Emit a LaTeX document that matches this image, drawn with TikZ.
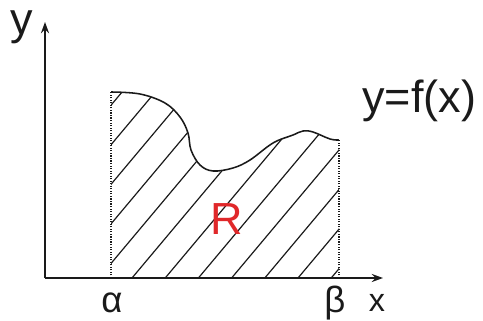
\documentclass[tikz,border=0pt]{standalone}
\usepackage{fontspec}
\setmainfont{Liberation Sans}
\usetikzlibrary{arrows.meta,calc,positioning}
\definecolor{AreaInk}{HTML}{1A1A1A}
\definecolor{AreaRed}{HTML}{E0282A}
\tikzset{
  every node/.style={text=AreaInk, inner sep=0pt},
  axis/.style={-{Stealth[length=2.8mm,width=2mm]}, draw=AreaInk, line width=1.3pt},
  graph/.style={draw=AreaInk, line width=1.1pt},
  bound/.style={draw=AreaInk, line width=0.8pt, densely dotted},
  hatch/.style={draw=AreaInk, line width=0.85pt},
  biglabel/.style={font=\fontsize{32}{38}\selectfont, anchor=base west},
  endlabel/.style={font=\fontsize{26}{30}\selectfont, anchor=base},
}

\begin{document}
\begin{tikzpicture}[x=1cm,y=1cm]
  \useasboundingbox (-1.125,-1.05) rectangle (10.95,6.95);
  % Axes
  \coordinate (O) at (0,0);
  \coordinate (ytip) at (0,6.4);
  \coordinate (xtip) at (8.45,0);
  \coordinate (a) at (1.65,0);
  \coordinate (b) at (7.35,0);
  \coordinate (atop) at (1.65,4.65);
  \coordinate (btop) at (7.35,3.45);
  % Hatching of the region, clipped to it
  \begin{scope}
    \clip (a) -- plot[smooth, tension=0.6] coordinates {(1.65,4.65) (2.375,4.6) (3.0,4.375)
        (3.375,4.025) (3.575,3.625) (3.65,3.2) (3.875,2.825) (4.2,2.675)
        (4.7,2.75) (5.125,2.95) (5.7,3.375) (6.2,3.575) (6.45,3.675)
        (6.7,3.65) (7.125,3.475) (7.35,3.45)}
      -- (b) -- cycle;
    \foreach \k in {-8,...,8}
      \draw[hatch] ($(2.175+0.83*\k,0)$) -- ++(50:9);
  \end{scope}
  % Curve y=f(x)
  \draw[graph] plot[smooth, tension=0.6] coordinates {(1.65,4.65) (2.375,4.6) (3.0,4.375)
    (3.375,4.025) (3.575,3.625) (3.65,3.2) (3.875,2.825) (4.2,2.675)
    (4.7,2.75) (5.125,2.95) (5.7,3.375) (6.2,3.575) (6.45,3.675)
    (6.7,3.65) (7.125,3.475) (7.35,3.45)};
  % Bounds at alpha and beta
  \draw[bound] (a) -- (atop);
  \draw[bound] (b) -- (btop);
  \draw[axis] (O) -- (ytip);
  \draw[axis] (O) -- (xtip);
  % Labels
  \node[biglabel] (ylab) at (-0.875,6.075) {y};
  \node[biglabel] (flab) at (7.925,4.125) {y=f(x)};
  \node[endlabel] (alab) at (1.675,-0.85) {α};
  \node[endlabel] (blab) at (7.25,-0.85) {β};
  \node[endlabel, font=\fontsize{23}{27}\selectfont] (xlab) at (8.3,-0.825) {x};
  \node[endlabel, font=\fontsize{32}{38}\selectfont, text=AreaRed] (R) at (4.55,1.075) {R};
\end{tikzpicture}
\end{document}
